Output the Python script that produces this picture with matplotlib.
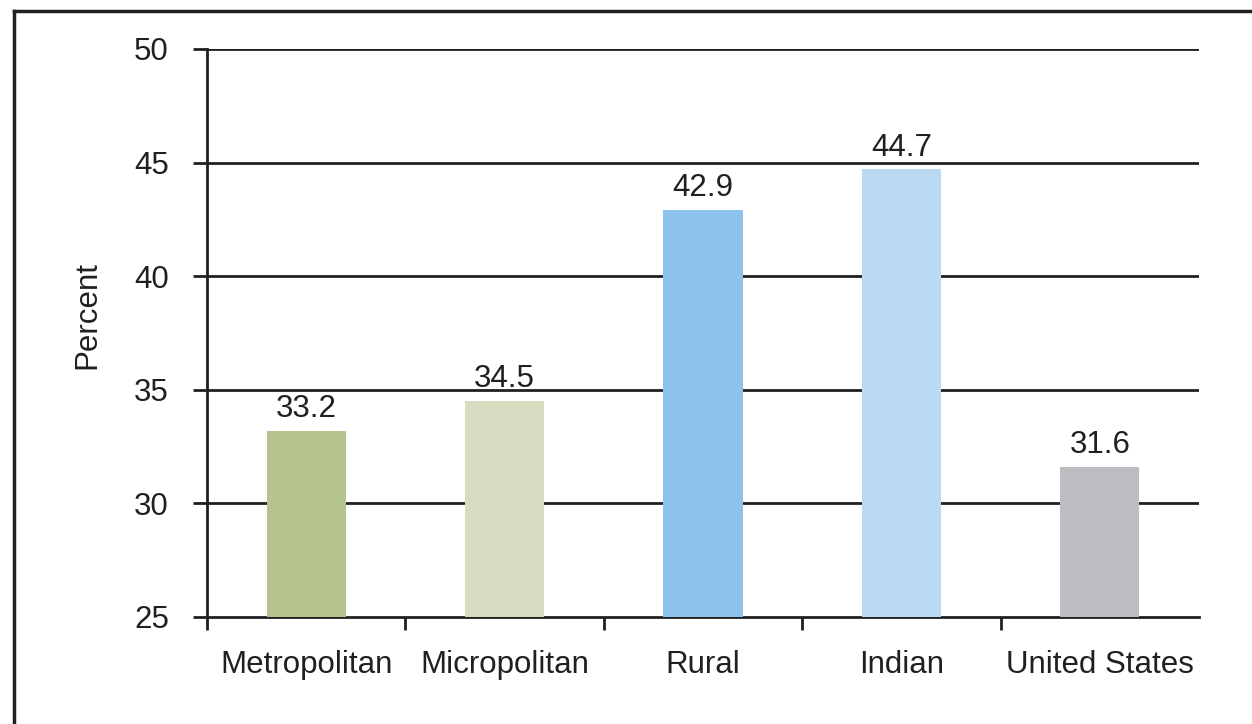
import matplotlib.pyplot as plt
from matplotlib.lines import Line2D
import numpy as np

plt.rcParams['font.family'] = ['Liberation Sans', 'DejaVu Sans']

categories = ["Metropolitan", "Micropolitan", "Rural", "Indian", "United States"]
values = [33.2, 34.5, 42.9, 44.7, 31.6]
colors = ["#b5c48e", "#d5dcc0", "#8bc3ea", "#badaf1", "#bcbdc1"]
y_ticks = [25, 30, 35, 40, 45, 50]

ink = "#231f20"

fig = plt.figure(figsize=(12.52, 7.24), dpi=100)
W, H = 1252, 724
ax = fig.add_axes([207 / W, 1 - 617 / H, (1199 - 207) / W, (617 - 49) / H])

x = np.arange(len(categories))
ax.bar(x, [v - y_ticks[0] for v in values], bottom=y_ticks[0], width=0.4,
       color=colors, zorder=3)

for xi, v in zip(x, values):
    ax.text(xi, v + 0.3, f"{v:.1f}", ha="center", va="bottom",
            fontsize=22.5, color=ink, zorder=4)

ax.set_xlim(-0.5, len(categories) - 0.5)
ax.set_ylim(y_ticks[0], y_ticks[-1])
ax.set_yticks(y_ticks)
ax.set_yticklabels([str(t) for t in y_ticks])
ax.tick_params(axis="y", length=10, width=2, color=ink, labelsize=22.5,
               labelcolor=ink, pad=17.5)

# Gridlines
for t in y_ticks[1:]:
    ax.axhline(t, color=ink, lw=2, zorder=2)

# Category boundary ticks on x axis
ax.set_xticks(np.arange(-0.5, len(categories) - 1, 1.0))
ax.set_xticklabels([])
ax.tick_params(axis="x", length=9, width=2, color=ink)
for xi, c in zip(x, categories):
    ax.text(xi, 25 - 1.45, c, ha="center", va="top", fontsize=22.5, color=ink,
            transform=ax.transData, clip_on=False)

for s in ["top", "right"]:
    ax.spines[s].set_visible(False)
for s in ["left", "bottom"]:
    ax.spines[s].set_linewidth(2)
    ax.spines[s].set_color(ink)

fig.text(87 / W, 1 - 315 / H, "Percent", rotation=90, ha="center",
         va="center", fontsize=22.5, color=ink)

# Outer frame
fig.add_artist(Line2D([14 / W, 14 / W], [0, 1 - 11 / H], transform=fig.transFigure,
                      color=ink, lw=2.5))
fig.add_artist(Line2D([14 / W, 1], [1 - 11 / H, 1 - 11 / H], transform=fig.transFigure,
                      color=ink, lw=2.5))

fig.savefig("out.png", dpi=100, facecolor="white")
